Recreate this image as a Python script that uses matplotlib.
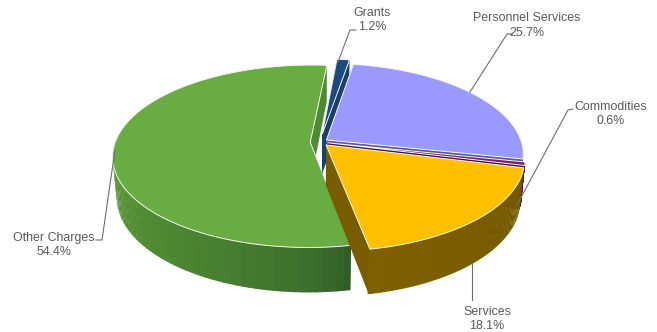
import numpy as np
import matplotlib
matplotlib.use('Agg')
import matplotlib.pyplot as plt
from matplotlib.colors import to_rgb

# pie data, clockwise from the first slice
categories = ['Personnel Services', 'Commodities', 'Services', 'Other Charges', 'Grants']
percents = [25.7, 0.6, 18.1, 54.4, 1.2]
explode = [0.04, 0.04, 0.045, 0.05, 0.09]
top_colors = ['#9999FF', '#7B1F6E', '#FFC000', '#69AD42', '#1C4A80']
side_left = ['#5A5AA0', '#4A1040', '#7F6000', '#5C9C38', '#12335A']
side_right = ['#5A5AA0', '#4A1040', '#6E5400', '#2F5C27', '#12335A']
cut_colors = ['#5A5AA0', '#4A1040', '#7A5C00', '#4F8A33', '#173F70']
draw_order = [3, 4, 0, 1, 2]

first_angle = 9.5
cx, cy = 320, 142
rx, ry = 195, 89
persp = 0.154
depth_h, depth_m = 41, 0.02


def project(X, Y, Z):
    # Z is 0 on the top face and 1 on the bottom face
    w = 1 + persp * Y + depth_m * Z
    return cx + rx * X / w, cy - (ry * Y - depth_h * Z) / w


def rim(a0, a1, e, bis, Z=0, n=80):
    t = np.radians(np.linspace(a0, a1, n))
    ox, oy = e * np.sin(np.radians(bis)), e * np.cos(np.radians(bis))
    return project(ox + np.sin(t), oy + np.cos(t), Z * np.ones(n))


def cut_wall(ax, a, e, bis, color):
    t = np.radians(a)
    ox, oy = e * np.sin(np.radians(bis)), e * np.cos(np.radians(bis))
    xs, ys = [], []
    for px, py, z in [(ox, oy, 0), (ox + np.sin(t), oy + np.cos(t), 0),
                      (ox + np.sin(t), oy + np.cos(t), 1), (ox, oy, 1)]:
        sx, sy = project(px, py, z)
        xs.append(sx)
        ys.append(sy)
    ax.fill(xs, ys, color=color, lw=0)


fig = plt.figure(figsize=(6.57, 3.32), dpi=100)
ax = fig.add_axes([0, 0, 1, 1])
ax.set_xlim(0, 657)
ax.set_ylim(332, 0)
ax.axis('off')

sweeps = np.array(percents) * 3.6
starts = first_angle + np.concatenate([[0], np.cumsum(sweeps)[:-1]])

for i in draw_order:
    a0, a1 = starts[i], starts[i] + sweeps[i]
    bis = (a0 + a1) / 2
    e = explode[i]
    ox, oy = e * np.sin(np.radians(bis)), e * np.cos(np.radians(bis))

    cut_wall(ax, a0, e, bis, cut_colors[i])
    cut_wall(ax, a1, e, bis, cut_colors[i])

    # outer wall, only the part that faces front, shaded in strips
    w0, w1 = max(a0, 88), min(a1, 272)
    if w1 > w0:
        strips = np.linspace(w0, w1, 60)
        # green wall gets darker going to the right, so shade runs backwards
        c_a, c_b = np.array(to_rgb(side_right[i])), np.array(to_rgb(side_left[i]))
        for j in range(len(strips) - 1):
            f = j / (len(strips) - 2)
            col = c_a + (c_b - c_a) * f ** 0.55
            xt, yt = rim(strips[j], strips[j + 1] + 0.3, e, bis, 0, 6)
            xb, yb = rim(strips[j], strips[j + 1] + 0.3, e, bis, 1, 6)
            ax.fill(np.r_[xt, xb[::-1]], np.r_[yt, yb[::-1]], color=col, lw=0)

    # top face
    xr, yr = rim(a0, a1, e, bis)
    ax_, ay_ = project(ox, oy, 0)
    ax.fill(np.r_[ax_, xr], np.r_[ay_, yr], facecolor=top_colors[i],
            edgecolor='#F4F8EC', lw=0.7, joinstyle='round')

# leader lines
leader_x = [[338, 350, 356], [470, 507, 512], [517, 568, 573], [472, 472], [115, 102, 96]]
leader_y = [[62, 30, 30], [92, 34, 34], [205, 110, 109], [263, 300], [150, 240, 240]]
for lx, ly in zip(leader_x, leader_y):
    ax.plot(lx, ly, color='#6E6E6E', lw=0.8)

# labels
label_x = [527, 611, 487, 54, 372]
label_y = [25.5, 114, 319, 245, 20]
for name, pct, x, y in zip(categories, percents, label_x, label_y):
    ax.text(x, y, f'{name}\n{pct}%', ha='center', va='center', fontsize=8.9,
            family='Liberation Sans', color='#595959', linespacing=1.3)

fig.savefig('out.png', dpi=100, facecolor='white')
